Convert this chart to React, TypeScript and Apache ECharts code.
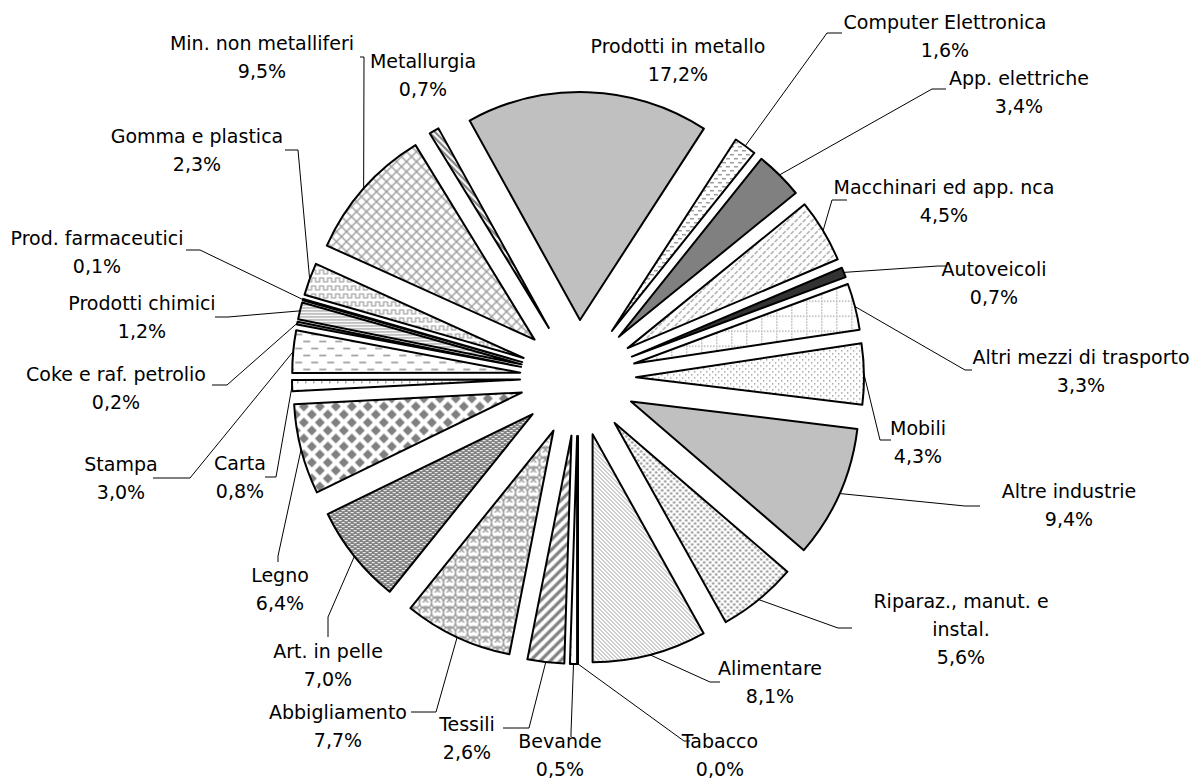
import React, { useEffect, useRef } from 'react';
import * as echarts from 'echarts';

// ---------- data (clockwise from 6 o'clock) ----------
const CATEGORIES = [
  'Tabacco', 'Bevande', 'Tessili', 'Abbigliamento', 'Art. in pelle', 'Legno', 'Carta', 'Stampa',
  'Coke e raf. petrolio', 'Prodotti chimici', 'Prod. farmaceutici', 'Gomma e plastica',
  'Min. non metalliferi', 'Metallurgia', 'Prodotti in metallo', 'Computer Elettronica',
  'App. elettriche', 'Macchinari ed app. nca', 'Autoveicoli', 'Altri mezzi di trasporto',
  'Mobili', 'Altre industrie', 'Riparaz., manut. e instal.', 'Alimentare',
];
const VALUES = [
  0.0, 0.5, 2.6, 7.7, 7.0, 6.4, 0.8, 3.0,
  0.2, 1.2, 0.1, 2.3,
  9.5, 0.7, 17.2, 1.6,
  3.4, 4.5, 0.7, 3.3,
  4.3, 9.4, 5.6, 8.1,
];

// ---------- layout (not data) ----------
const W = 1190;
const H = 779;
const CX = 578;
const CY = 378;
const RADIUS = 228;
const EXPLODE = 58;
const START_CLOCK_DEG = 180; // first slice starts at 6 o'clock

// label centres
const LABEL_POS: number[][] = [
  [720, 755], [560, 755], [467, 738], [338, 726], [328, 665], [280, 589], [240, 477], [121, 478],
  [116, 388], [142, 317], [97, 252], [197, 150],
  [262, 57], [423, 75], [678, 60], [945, 36],
  [1019, 92], [944, 201], [994, 283], [1081, 371],
  [918, 442], [1069, 505], [961, 629], [770, 682],
];
// leader: bend point, end point (null = no leader)
const LEADERS: (number[] | null)[] = [
  [684, 741, 690, 741], [571, 733, 571, 737], [529, 728, 503, 728], [436, 712, 411, 712],
  [328, 617, 328, 637], [278, 556, 278, 562], [276, 477, 265, 477], [190, 478, 153, 478],
  [227, 385, 212, 385], [228, 317, 215, 317], [200, 250, 186, 250], [298, 150, 285, 150],
  [364, 57, 360, 57], null, null, [827, 33, 842, 33],
  [932, 89, 946, 89], [832, 200, 847, 200], [938, 266, 946, 266], [965, 370, 972, 370],
  [880, 440, 891, 440], [965, 506, 980, 506], [838, 628, 852, 628], [710, 682, 720, 682],
];

// ---------- fills ----------
function pat(w: number, h: number, draw: (c: CanvasRenderingContext2D) => void, bg = '#ffffff') {
  const cv = document.createElement('canvas');
  cv.width = w;
  cv.height = h;
  const ctx = cv.getContext('2d') as CanvasRenderingContext2D;
  ctx.fillStyle = bg;
  ctx.fillRect(0, 0, w, h);
  draw(ctx);
  return { image: cv, repeat: 'repeat', imageWidth: w, imageHeight: h } as any;
}

function makeFills(): any[] {
  const G = '#808080';
  const LG = '#9a9a9a';
  const sparseDots = pat(8, 8, (c) => { c.fillStyle = G; c.fillRect(3, 4, 1.5, 1.5); });
  const tessili = pat(10, 10, (c) => {
    c.strokeStyle = G; c.lineWidth = 3.2;
    [[-10, 10, 10, -10], [0, 10, 10, 0], [0, 20, 20, 0]].forEach(([a, b, d, e]) => {
      c.beginPath(); c.moveTo(a, b); c.lineTo(d, e); c.stroke();
    });
  });
  const abbigl = pat(12, 10, (c) => {
    c.strokeStyle = LG; c.lineWidth = 1.3;
    c.beginPath(); c.arc(6, 0, 6, 0, Math.PI); c.stroke();
    c.beginPath(); c.arc(0, 5, 6, 0, Math.PI); c.stroke();
    c.beginPath(); c.arc(12, 5, 6, 0, Math.PI); c.stroke();
    c.beginPath(); c.arc(6, 10, 6, Math.PI, 2 * Math.PI); c.stroke();
  });
  const pelle = pat(6, 4, (c) => {
    c.fillStyle = '#ffffff'; c.fillRect(0, 0, 3, 1); c.fillRect(3, 2, 3, 1);
  }, G);
  const legno = pat(16, 16, (c) => {
    c.fillStyle = G;
    const dia = (x: number, y: number, r: number) => {
      c.beginPath(); c.moveTo(x, y - r); c.lineTo(x + r, y); c.lineTo(x, y + r); c.lineTo(x - r, y); c.closePath(); c.fill();
    };
    dia(8, 8, 5); dia(0, 0, 5); dia(16, 0, 5); dia(0, 16, 5); dia(16, 16, 5);
  });
  const stampa = pat(16, 14, (c) => { c.fillStyle = LG; c.fillRect(1, 3, 7, 1.6); c.fillRect(9, 10, 7, 1.6); });
  const chimici = pat(4, 3, (c) => { c.fillStyle = LG; c.fillRect(0, 0, 4, 1.2); });
  const gomma = pat(8, 8, (c) => {
    c.strokeStyle = LG; c.lineWidth = 1.2;
    c.beginPath(); c.moveTo(0, 2); c.lineTo(2, 2); c.lineTo(2, 6); c.lineTo(6, 6); c.lineTo(6, 2); c.lineTo(8, 2); c.stroke();
  });
  const minerali = pat(10, 10, (c) => {
    c.strokeStyle = LG; c.lineWidth = 1.4;
    c.beginPath(); c.moveTo(0, 0); c.lineTo(10, 10); c.moveTo(10, 0); c.lineTo(0, 10); c.stroke();
  });
  const metallurgia = pat(6, 6, (c) => {
    c.strokeStyle = G; c.lineWidth = 2.2;
    c.beginPath(); c.moveTo(-6, 0); c.lineTo(6, 12); c.moveTo(0, 0); c.lineTo(6, 6); c.moveTo(0, -6); c.lineTo(12, 6); c.stroke();
  });
  const computer = pat(8, 8, (c) => { c.fillStyle = LG; c.fillRect(0, 1, 4, 1.5); c.fillRect(4, 5, 4, 1.5); });
  const macchinari = pat(8, 8, (c) => {
    c.strokeStyle = LG; c.lineWidth = 1.2;
    c.beginPath(); c.moveTo(1, 4); c.lineTo(4, 1); c.moveTo(5, 8); c.lineTo(8, 5); c.stroke();
  });
  const mezzi = pat(15, 15, (c) => {
    c.fillStyle = LG;
    for (let i = 0; i < 15; i += 3) { c.fillRect(i, 0, 1.3, 1.3); c.fillRect(0, i, 1.3, 1.3); }
  });
  const mobili = pat(6, 6, (c) => { c.fillStyle = LG; c.fillRect(0, 0, 1.4, 1.4); c.fillRect(3, 3, 1.4, 1.4); });
  const riparaz = pat(6, 6, (c) => {
    c.fillStyle = LG;
    c.beginPath(); c.arc(1.5, 1.5, 1.3, 0, 2 * Math.PI); c.fill();
    c.beginPath(); c.arc(4.5, 4.5, 1.3, 0, 2 * Math.PI); c.fill();
  });
  const alimentare = pat(4, 4, (c) => { c.fillStyle = LG; for (let i = 0; i < 4; i++) c.fillRect(i, i, 1, 1); });

  return [
    '#ffffff', sparseDots, tessili, abbigl, pelle, legno, sparseDots, stampa,
    '#c0c0c0', chimici, '#ffffff', gomma,
    minerali, metallurgia, '#c0c0c0', computer,
    '#808080', macchinari, '#333333', mezzi,
    mobili, '#c0c0c0', riparaz, alimentare,
  ];
}

function fmt(v: number) {
  return v.toFixed(1).replace('.', ',') + '%';
}

function wrapName(n: string) {
  if (n.length <= 25) return n;
  const k = n.lastIndexOf(' ');
  return n.slice(0, k) + '\n' + n.slice(k + 1);
}

// outer-arc midpoint of an exploded slice (start of its leader line)
function arcPoint(i: number): number[] {
  const total = VALUES.reduce((a, b) => a + b, 0);
  let cum = 0;
  for (let k = 0; k < i; k++) cum += VALUES[k];
  const mid = cum + VALUES[i] / 2;
  const phi = ((START_CLOCK_DEG + (360 * mid) / total) * Math.PI) / 180;
  const r = RADIUS + EXPLODE;
  return [CX + r * Math.sin(phi), CY - r * Math.cos(phi)];
}

export default function App() {
  const ref = useRef<HTMLDivElement>(null);
  useEffect(() => {
    if (!ref.current) return;
    const chart = echarts.init(ref.current, null, { renderer: 'svg' });
    const fills = makeFills();
    const data = CATEGORIES.map((name, i) => ({
      name,
      value: VALUES[i],
      selected: true,
      itemStyle: { color: fills[i] },
    }));

    const labels: any[] = CATEGORIES.map((name, i) => ({
      type: 'text',
      z: 10,
      silent: true,
      style: {
        text: wrapName(name) + '\n' + fmt(VALUES[i]),
        x: LABEL_POS[i][0],
        y: LABEL_POS[i][1],
        align: 'center',
        verticalAlign: 'middle',
        textAlign: 'center',
        textVerticalAlign: 'middle',
        fontFamily: 'DejaVu Sans',
        fontSize: 19,
        lineHeight: 28,
        fill: '#000000',
      },
    }));
    const leaders: any[] = [];
    LEADERS.forEach((ld, i) => {
      if (!ld) return;
      leaders.push({
        type: 'polyline',
        z: 9,
        silent: true,
        shape: { points: [arcPoint(i), [ld[0], ld[1]], [ld[2], ld[3]]] },
        style: { stroke: '#000000', lineWidth: 1, fill: null },
      });
    });

    chart.setOption({
      animation: false,
      backgroundColor: '#ffffff',
      textStyle: { fontFamily: 'DejaVu Sans' },
      graphic: { elements: [...leaders, ...labels] },
      series: [
        {
          type: 'pie',
          center: [CX, CY],
          radius: [0, RADIUS],
          startAngle: -90,
          clockwise: true,
          selectedMode: 'multiple',
          selectedOffset: EXPLODE,
          avoidLabelOverlap: false,
          emphasis: { disabled: true },
          itemStyle: { borderColor: '#000000', borderWidth: 2 },
          label: { show: false },
          labelLine: { show: false },
          data,
        },
      ],
    });
    return () => chart.dispose();
  }, []);
  return <div ref={ref} style={{ position: 'fixed', left: 0, top: 0, width: W, height: H }} />;
}
